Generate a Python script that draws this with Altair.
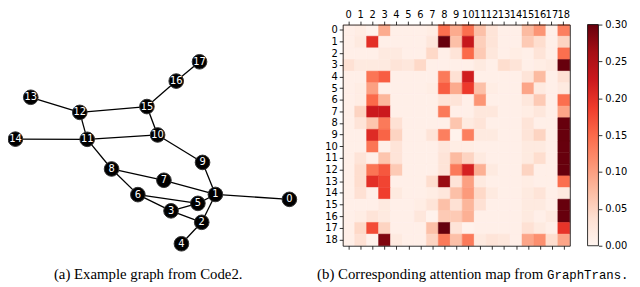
import altair as alt
import pandas as pd

# ---------------- graph (left panel) ----------------
NODE_IDS = [0, 1, 2, 3, 4, 5, 6, 7, 8, 9, 10, 11, 12, 13, 14, 15, 16, 17]
NODE_X = [1.000, 0.730, 0.680, 0.568, 0.606, 0.666, 0.447, 0.542, 0.351,
          0.683, 0.519, 0.262, 0.235, 0.056, 0.000, 0.480, 0.587, 0.672]
NODE_Y = [0.244, 0.271, 0.118, 0.181, 0.000, 0.222, 0.270, 0.349, 0.411,
          0.447, 0.598, 0.574, 0.722, 0.805, 0.575, 0.754, 0.894, 1.000]
EDGE_SRC = [17, 16, 15, 12, 12, 15, 11, 11, 10, 11, 8, 8, 7, 9, 1, 6, 6, 3, 5, 1, 3, 2]
EDGE_DST = [16, 15, 12, 13, 11, 10, 14, 10, 9, 8, 7, 6, 1, 1, 0, 5, 3, 5, 1, 2, 2, 4]

# ---------------- attention map (right panel) ----------------
LABELS = ["0", "1", "2", "3", "4", "5", "6", "7", "8", "9",
          "10", "11", "12", "13", "14", "15", "16", "17", "18"]
R00 = [0.010, 0.015, 0.005, 0.090, 0.010, 0.010, 0.010, 0.015, 0.145, 0.090, 0.145, 0.070, 0.030, 0.010, 0.010, 0.075, 0.110, 0.010, 0.130]
R01 = [0.010, 0.020, 0.200, 0.010, 0.010, 0.010, 0.010, 0.025, 0.300, 0.070, 0.230, 0.055, 0.030, 0.010, 0.010, 0.060, 0.040, 0.010, 0.050]
R02 = [0.010, 0.010, 0.010, 0.020, 0.020, 0.010, 0.010, 0.045, 0.010, 0.030, 0.150, 0.060, 0.025, 0.010, 0.015, 0.010, 0.030, 0.010, 0.145]
R03 = [0.035, 0.020, 0.020, 0.020, 0.030, 0.025, 0.045, 0.010, 0.010, 0.010, 0.010, 0.020, 0.010, 0.040, 0.030, 0.010, 0.015, 0.020, 0.300]
R04 = [0.010, 0.010, 0.140, 0.160, 0.010, 0.010, 0.010, 0.010, 0.135, 0.035, 0.220, 0.010, 0.010, 0.010, 0.010, 0.030, 0.075, 0.010, 0.035]
R05 = [0.010, 0.015, 0.100, 0.010, 0.010, 0.010, 0.010, 0.015, 0.160, 0.090, 0.190, 0.070, 0.015, 0.010, 0.010, 0.095, 0.020, 0.010, 0.020]
R06 = [0.010, 0.015, 0.150, 0.080, 0.010, 0.010, 0.010, 0.010, 0.030, 0.030, 0.010, 0.110, 0.010, 0.010, 0.010, 0.025, 0.060, 0.010, 0.145]
R07 = [0.010, 0.050, 0.225, 0.225, 0.010, 0.010, 0.010, 0.010, 0.135, 0.010, 0.010, 0.025, 0.025, 0.010, 0.010, 0.015, 0.025, 0.010, 0.095]
R08 = [0.010, 0.030, 0.065, 0.135, 0.035, 0.010, 0.010, 0.010, 0.010, 0.065, 0.020, 0.030, 0.010, 0.010, 0.010, 0.030, 0.010, 0.010, 0.300]
R09 = [0.010, 0.010, 0.205, 0.155, 0.050, 0.010, 0.010, 0.030, 0.130, 0.005, 0.130, 0.020, 0.020, 0.010, 0.010, 0.030, 0.050, 0.010, 0.300]
R10 = [0.010, 0.010, 0.140, 0.010, 0.030, 0.010, 0.010, 0.010, 0.025, 0.015, 0.015, 0.010, 0.010, 0.010, 0.010, 0.020, 0.020, 0.010, 0.300]
R11 = [0.010, 0.030, 0.010, 0.065, 0.030, 0.010, 0.010, 0.010, 0.030, 0.075, 0.050, 0.020, 0.010, 0.010, 0.010, 0.020, 0.040, 0.010, 0.300]
R12 = [0.010, 0.040, 0.140, 0.165, 0.060, 0.010, 0.010, 0.010, 0.030, 0.135, 0.215, 0.085, 0.020, 0.010, 0.010, 0.050, 0.010, 0.010, 0.300]
R13 = [0.010, 0.040, 0.200, 0.180, 0.010, 0.010, 0.010, 0.040, 0.270, 0.030, 0.100, 0.020, 0.010, 0.010, 0.010, 0.015, 0.010, 0.010, 0.145]
R14 = [0.010, 0.035, 0.010, 0.185, 0.020, 0.010, 0.010, 0.015, 0.025, 0.070, 0.105, 0.045, 0.020, 0.010, 0.010, 0.020, 0.030, 0.010, 0.020]
R15 = [0.010, 0.010, 0.010, 0.020, 0.010, 0.010, 0.015, 0.030, 0.070, 0.035, 0.080, 0.035, 0.010, 0.010, 0.010, 0.020, 0.020, 0.010, 0.300]
R16 = [0.010, 0.015, 0.030, 0.020, 0.010, 0.010, 0.025, 0.005, 0.060, 0.060, 0.085, 0.010, 0.010, 0.010, 0.010, 0.020, 0.010, 0.020, 0.300]
R17 = [0.010, 0.045, 0.175, 0.050, 0.010, 0.010, 0.010, 0.070, 0.300, 0.030, 0.005, 0.010, 0.010, 0.010, 0.010, 0.035, 0.020, 0.010, 0.195]
R18 = [0.010, 0.035, 0.005, 0.285, 0.020, 0.010, 0.010, 0.050, 0.135, 0.070, 0.135, 0.020, 0.030, 0.025, 0.010, 0.095, 0.115, 0.040, 0.095]
ATTN = [R00, R01, R02, R03, R04, R05, R06, R07, R08, R09,
        R10, R11, R12, R13, R14, R15, R16, R17, R18]

CB_TICKS = [0.00, 0.05, 0.10, 0.15, 0.20, 0.25, 0.30]

CAPTION_A = "(a) Example graph from Code2."
CAPTION_B_TEXT = "(b) Corresponding attention map from"
CAPTION_B_CODE = "GraphTrans."

# ---------------- styling / layout ----------------
W, H = 632, 279
GX_RANGE = [7.5, 285.0]
GY_RANGE = [237.0, 52.7]
HX_RANGE = [339, 569]
HY_RANGE = [15, 239]
REDS = ["#fff5f0", "#fee0d2", "#fcbba1", "#fc9272", "#fb6a4a",
        "#ef3b2c", "#cb181d", "#a50f15", "#67000d"]
REDS_STOPS = [0.0, 0.0375, 0.075, 0.1125, 0.15, 0.1875, 0.225, 0.2625, 0.3]

# graph tables
pos = {n: (x, y) for n, x, y in zip(NODE_IDS, NODE_X, NODE_Y)}
nodes = pd.DataFrame({"x": NODE_X, "y": NODE_Y, "label": [str(n) for n in NODE_IDS]})
edges = pd.DataFrame({
    "x": [pos[s][0] for s in EDGE_SRC], "y": [pos[s][1] for s in EDGE_SRC],
    "x2": [pos[d][0] for d in EDGE_DST], "y2": [pos[d][1] for d in EDGE_DST],
})

gx = alt.Scale(domain=[0, 1], range=GX_RANGE, nice=False, zero=False)
gy = alt.Scale(domain=[0, 1], range=GY_RANGE, nice=False, zero=False)

edge_layer = alt.Chart(edges).mark_rule(color="black", strokeWidth=1.3).encode(
    x=alt.X("x:Q", scale=gx, axis=None),
    y=alt.Y("y:Q", scale=gy, axis=None),
    x2="x2:Q", y2="y2:Q",
)
node_layer = alt.Chart(nodes).mark_circle(size=220, color="black", opacity=1,
                                          stroke="#333333", strokeWidth=1).encode(
    x=alt.X("x:Q", scale=gx, axis=None),
    y=alt.Y("y:Q", scale=gy, axis=None),
)
label_layer = alt.Chart(nodes).mark_text(color="white", fontSize=10, font="DejaVu Sans",
                                         baseline="middle", align="center").encode(
    x=alt.X("x:Q", scale=gx, axis=None),
    y=alt.Y("y:Q", scale=gy, axis=None),
    text="label:N",
)

# heatmap table
heat_df = pd.DataFrame([
    {"row": LABELS[r], "col": LABELS[c], "v": ATTN[r][c]}
    for r in range(len(LABELS)) for c in range(len(LABELS))
])
hx = alt.Scale(domain=LABELS, range=HX_RANGE, paddingInner=0, paddingOuter=0)
hy = alt.Scale(domain=LABELS, range=HY_RANGE, paddingInner=0, paddingOuter=0)
cscale = alt.Scale(domain=REDS_STOPS, range=REDS, interpolate="rgb", clamp=True)

ax = dict(title=None, grid=False, domainColor="black", domainWidth=0.8,
          tickColor="black", tickWidth=0.8, tickSize=3.5,
          labelFont="DejaVu Sans", labelFontSize=10, labelColor="black",
          labelOverlap=False, zindex=1)

heat = alt.Chart(heat_df).mark_rect(strokeWidth=0.5).encode(
    x=alt.X("col:O", scale=hx,
            axis=alt.Axis(orient="top", offset=-HY_RANGE[0], labelAngle=0,
                          labelPadding=1.5, **ax)),
    y=alt.Y("row:O", scale=hy,
            axis=alt.Axis(orient="left", offset=-HX_RANGE[0], labelPadding=2, **ax)),
    color=alt.Color("v:Q", scale=cscale, legend=None),
    stroke=alt.Stroke("v:Q", scale=cscale, legend=None),
)
frame = alt.Chart(heat_df).mark_point(opacity=0).encode(
    x=alt.X("col:O", scale=hx,
            axis=alt.Axis(orient="bottom", offset=HY_RANGE[1] - H, labels=False, **ax)),
    y=alt.Y("row:O", scale=hy,
            axis=alt.Axis(orient="right", offset=HX_RANGE[1] - W, labels=False,
                          ticks=False, **{k: v for k, v in ax.items() if k not in ("tickSize",)})),
)

# colorbar
cb_df = pd.DataFrame({"lo": [CB_TICKS[0]], "hi": [CB_TICKS[-1]]})
cby = alt.Scale(domain=[CB_TICKS[0], CB_TICKS[-1]], range=[HY_RANGE[1], HY_RANGE[0]],
                nice=False, zero=False)
grad = alt.Gradient(
    gradient="linear",
    stops=[alt.GradientStop(offset=s / REDS_STOPS[-1], color=c) for s, c in zip(REDS_STOPS, REDS)],
    x1=0, x2=0, y1=1, y2=0,
)
CB_X0, CB_X1 = 587, 598
cbar = alt.Chart(cb_df).mark_rect(fill=grad, stroke="black", strokeWidth=0.8).encode(
    x=alt.value(CB_X0), x2=alt.value(CB_X1),
    y=alt.Y("lo:Q", scale=cby,
            axis=alt.Axis(orient="right", offset=CB_X1 - W, values=CB_TICKS, format=".2f",
                          domain=False, labelPadding=3, **{k: v for k, v in ax.items() if k != "domainColor"})),
    y2="hi:Q",
)

# captions
capA = alt.Chart(pd.DataFrame({"t": [CAPTION_A]})).mark_text(
    font="Liberation Serif", fontSize=15, align="center", baseline="alphabetic", color="black"
).encode(x=alt.value(142), y=alt.value(273), text="t:N")
capB1 = alt.Chart(pd.DataFrame({"t": [CAPTION_B_TEXT]})).mark_text(
    font="Liberation Serif", fontSize=15, align="right", baseline="alphabetic", color="black"
).encode(x=alt.value(542), y=alt.value(273), text="t:N")
capB2 = alt.Chart(pd.DataFrame({"t": [CAPTION_B_CODE]})).mark_text(
    font="Liberation Mono", fontSize=12.5, align="left", baseline="alphabetic", color="black"
).encode(x=alt.value(546), y=alt.value(273), text="t:N")

chart = alt.layer(
    edge_layer, node_layer, label_layer, heat, frame, cbar, capA, capB1, capB2
).resolve_scale(
    x="independent", y="independent", color="independent", stroke="independent"
).properties(
    width=W, height=H, autosize=alt.AutoSizeParams(type="none"), padding=0,
    background="white",
).configure_view(stroke=None)

chart.save("out.html", embed_options={"renderer": "svg", "actions": False})
